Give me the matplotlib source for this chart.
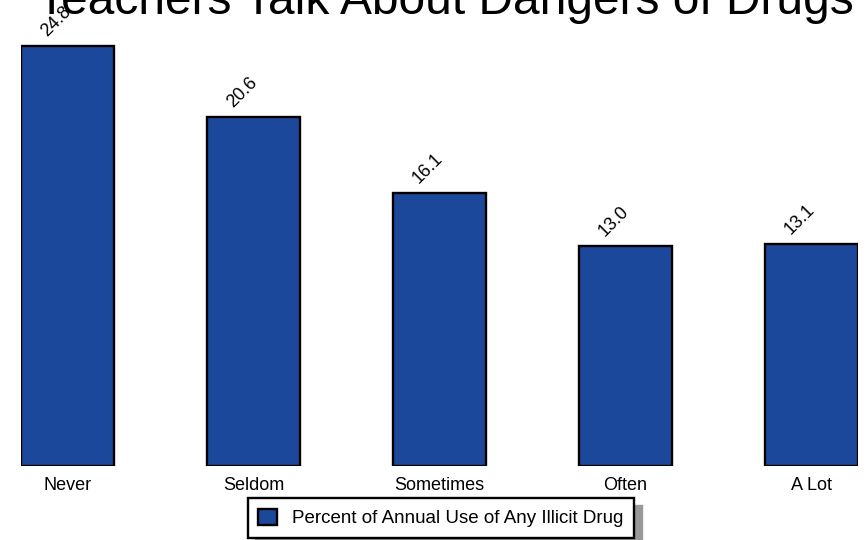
import matplotlib
matplotlib.use("Agg")
import matplotlib.pyplot as plt
from matplotlib.patches import Patch

categories = ["Never", "Seldom", "Sometimes", "Often", "A Lot"]
values = [24.8, 20.6, 16.1, 13.0, 13.1]
value_labels = ["24.8", "20.6", "16.1", "13.0", "13.1"]
series_name = "Percent of Annual Use of Any Illicit Drug"
title = "Teachers Talk About Dangers of Drugs"

plt.rcParams['font.family'] = ['Liberation Sans', 'DejaVu Sans']

W, H = 867, 540
fig = plt.figure(figsize=(W/100, H/100), dpi=100)
px_per_unit = 16.94
ymax = 26
ax = fig.add_axes([21/W, 74/H, (858-21)/W, ymax*px_per_unit/H])
bar_color = '#1b489b'
x = list(range(len(categories)))
ax.bar(x, values, width=0.5, color=bar_color, edgecolor='black', linewidth=1.7, zorder=2)
ax.set_xlim(-0.25, 4.25)
ax.set_ylim(0, ymax)
for s in ax.spines.values():
    s.set_visible(False)
ax.set_yticks([])
ax.set_xticks(x)
ax.set_xticklabels(categories, fontsize=13)
ax.tick_params(axis='x', length=0, pad=8)

for xi, v, lab in zip(x, values, value_labels):
    ax.annotate(lab, (xi, v), xytext=(-18, 6), textcoords='offset pixels',
                rotation=45, rotation_mode='anchor', ha='left', va='bottom',
                fontsize=13, clip_on=False, annotation_clip=False)

fig.text(445/W, 1 - 14/H, title, ha='center', va='baseline', fontsize=34.5)

leg = fig.legend(handles=[Patch(facecolor=bar_color, edgecolor='black', linewidth=1.7, label=series_name)],
                 loc='center', bbox_to_anchor=(441/W, 1 - 518/H), fontsize=13.5,
                 frameon=True, fancybox=False,
                 shadow=dict(ox=5.8, oy=-5.8, color='#999999', alpha=1),
                 handlelength=1.0, handleheight=1.0, borderpad=0.55, handletextpad=0.8,
                 borderaxespad=0)
leg.get_frame().set_edgecolor('black')
leg.get_frame().set_linewidth(1.7)

fig.savefig("out.png", dpi=100)
